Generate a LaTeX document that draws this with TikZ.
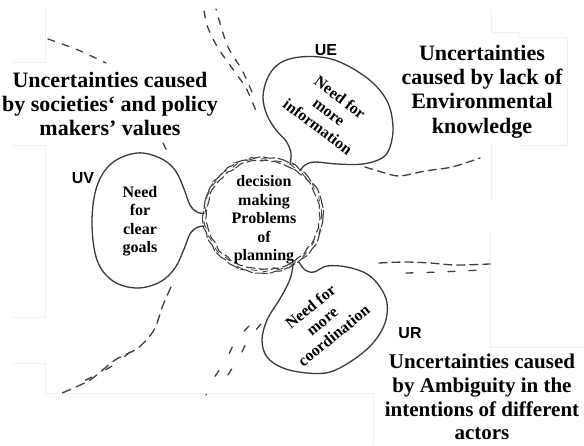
\documentclass[tikz,border=0pt]{standalone}
\usepackage{fontspec}
\setmainfont{Liberation Serif}
\newfontfamily\tagfont{Liberation Sans}
\usetikzlibrary{decorations.pathmorphing}
\definecolor{inkgray}{HTML}{3A3A3A}
\definecolor{pencil}{HTML}{3F3F3F}
\begin{document}
\pgfmathsetseed{11}
\begin{tikzpicture}[x=1pt,y=-1pt,
  outline/.style={draw=inkgray,line width=1.3pt,line join=round,line cap=round},
  sketchdash/.style={draw=pencil,line width=1.3pt,line cap=round,dash pattern=on 7pt off 8pt},
  hub/.style={draw=pencil,line width=1.1pt,line cap=round,rounded corners=1.5pt,
    decorate,decoration={random steps,segment length=4pt,amplitude=1.1pt}},
  paneledge/.style={draw=gray!12,line width=0.8pt},
  bigtext/.style={font=\fontsize{22}{24.3}\selectfont\bfseries,align=center,text=black,inner sep=0pt},
  bubbletext/.style={font=\fontsize{16}{18.5}\selectfont\bfseries,align=center,text=black},
  tag/.style={font=\tagfont\fontsize{16}{16}\selectfont\bfseries,text=black}]
\fill[white] (0,0) rectangle (584,445);
\useasboundingbox (0,0) rectangle (584,445);

% faint edges of the pasted text panels
\draw[paneledge] (13,62) -- (45,62) -- (45,8);
\draw[paneledge] (13,145) -- (45,145) -- (45,317) -- (13,317);
\draw[paneledge] (13,363) -- (45,363) -- (45,393) -- (373,393) -- (373,445);
\draw[paneledge] (490,230) -- (490,347) -- (584,347);
\draw[paneledge] (491,10) -- (491,32) -- (518,32) -- (518,37) -- (567,37) -- (567,145) -- (518,145);
\draw[paneledge] (491,145) -- (491,200);

% central hub: doubled scribbled ring
\draw[hub,dash pattern=on 12pt off 3pt] (263,215) ellipse [x radius=60,y radius=58];
\draw[hub,dash pattern=on 9pt off 4pt,dash phase=4pt] (263,215) ellipse [x radius=56.5,y radius=54.5];
\draw[hub,line width=0.8pt,dash pattern=on 6pt off 9pt,dash phase=2pt] (263,215) ellipse [x radius=58.5,y radius=56.5];

% bubble UV (left)
\draw[outline] plot[smooth,tension=0.6] coordinates {
  (204,226) (197,227.5) (190,234) (184,249) (175,268) (160,282) (137,288)
  (113,281) (97,260) (92,222) (97,186) (112,163) (137,153) (160,158)
  (175,170) (184,189) (190,205) (197,212) (204,213.5)};

% bubble UE (upper right)
\draw[outline] plot[smooth,tension=0.6] coordinates {
  (290,164) (291,153) (286,141) (276,130) (267,115) (263,97) (268,77)
  (280,63) (300,57) (327,58) (350,67) (373,83) (388,103) (393,127)
  (390,147) (382,158) (363,164) (337,164) (315,162) (305,165) (300,171)};

% bubble UR (lower right)
\draw[outline] plot[smooth,tension=0.6] coordinates {
  (293,265) (291,276) (286,288) (278,302) (267,320) (262,340) (267,357)
  (283,368) (307,373) (330,372) (353,360) (373,343) (385,323) (387,303)
  (380,287) (367,274) (347,267) (327,266) (314,272) (305,270) (299,262)};

% sketched dashed strokes
\draw[sketchdash] plot[smooth] coordinates {(204,11) (208,28) (218,48) (232,68) (246,88) (256,111)};
\draw[sketchdash,dash phase=6pt] plot[smooth] coordinates {(216,9) (219,20) (228,47) (242,70) (252,92)};
\draw[sketchdash] plot[smooth] coordinates {(48,39) (78,50) (106,63)};
\draw[sketchdash,dash pattern=on 8pt off 5pt] plot[smooth] coordinates {(365,167) (385,173) (400,176) (425,171) (452,167) (480,158)};
\draw[sketchdash,dash pattern=on 8pt off 5pt] plot[smooth] coordinates {(379,263) (405,262) (430,263) (455,265) (490,264)};
\draw[sketchdash,dash pattern=on 7pt off 14pt] plot[smooth] coordinates {(406,273) (440,272) (481,270)};
\draw[sketchdash,dash pattern=on 9pt off 6pt] plot[smooth] coordinates {(171,287) (163,305) (154,330) (138,348) (115,360) (90,380) (62,393)};
\draw[sketchdash,dash pattern=on 7pt off 16pt] plot[smooth] coordinates {(130,352) (112,366) (80,383)};
\draw[sketchdash,dash pattern=on 7pt off 20pt] plot[smooth] coordinates {(249,326) (235,342) (226,360) (214,378) (206,395)};
\draw[sketchdash,dash pattern=on 7pt off 20pt] plot[smooth] coordinates {(261,324) (248,340) (239,358) (228,375) (221,392)};
\draw[sketchdash] (163,143) -- (167,151);

% hub and bubble texts
\node[bubbletext] (hubtext) at (264,220) {decision\\making\\Problems\\of\\planning};
\node[bubbletext] (uvtext) at (140,221) {Need\\for\\clear\\goals};
\node[bubbletext,rotate=-37,inner sep=0pt] (uetext) at (329,112) {Need for\\more\\information};
\node[bubbletext,rotate=39,inner sep=0pt] (urtext) at (322,321) {Need for\\more\\coordination};

% bubble tags
\node[tag] (uetag) at (326,50) {UE};
\node[tag] (uvtag) at (83,178) {UV};
\node[tag] (urtag) at (410,333) {UR};

% outer captions
\node[bigtext] (capvalues) at (110,104) {Uncertainties caused\\by societies‘ and policy\\makers’ values};
\node[bigtext] (capenv) at (482,91.5) {Uncertainties\\caused by lack of\\Environmental\\knowledge};
\node[bigtext,font=\fontsize{21}{23.8}\selectfont\bfseries] (capactors) at (482,397) {Uncertainties caused\\by Ambiguity in the\\intentions of different\\actors};
\end{tikzpicture}
\end{document}
